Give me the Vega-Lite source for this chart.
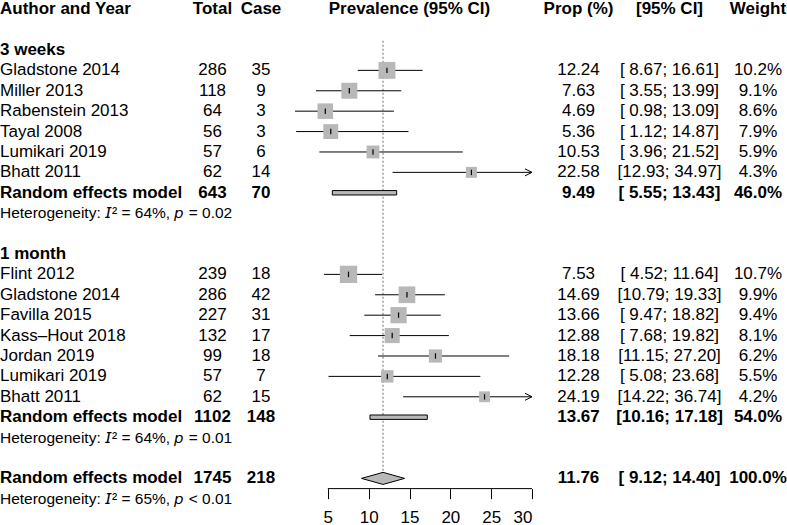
{
  "$schema": "https://vega.github.io/schema/vega-lite/v6.json",
  "padding": {"left": 0, "top": 0, "right": 0, "bottom": 2},
  "spacing": 15,
  "bounds": "flush",
  "config": {
    "view": {"stroke": null},
    "text": {"font": "Liberation Sans", "fontSize": 17, "color": "black"}
  },
  "data": {
    "values": [
      {"row": 0, "kind": "header", "bold": true, "label": "Author and Year", "total": "Total", "case": "Case", "forest": "Prevalence (95% CI)", "prop": "Prop (%)", "ci": "[95% CI]", "weight": "Weight"},
      {"row": 2, "kind": "group", "bold": true, "label": "3 weeks"},
      {"row": 3, "kind": "study", "bold": false, "label": "Gladstone 2014", "total": 286, "case": 35, "est": 12.24, "lo": 8.67, "hi": 16.61, "w": 10.2, "prop": "12.24", "ci": "[ 8.67; 16.61]", "weight": "10.2%"},
      {"row": 4, "kind": "study", "bold": false, "label": "Miller 2013", "total": 118, "case": 9, "est": 7.63, "lo": 3.55, "hi": 13.99, "w": 9.1, "prop": "7.63", "ci": "[ 3.55; 13.99]", "weight": "9.1%"},
      {"row": 5, "kind": "study", "bold": false, "label": "Rabenstein 2013", "total": 64, "case": 3, "est": 4.69, "lo": 0.98, "hi": 13.09, "w": 8.6, "prop": "4.69", "ci": "[ 0.98; 13.09]", "weight": "8.6%"},
      {"row": 6, "kind": "study", "bold": false, "label": "Tayal 2008", "total": 56, "case": 3, "est": 5.36, "lo": 1.12, "hi": 14.87, "w": 7.9, "prop": "5.36", "ci": "[ 1.12; 14.87]", "weight": "7.9%"},
      {"row": 7, "kind": "study", "bold": false, "label": "Lumikari 2019", "total": 57, "case": 6, "est": 10.53, "lo": 3.96, "hi": 21.52, "w": 5.9, "prop": "10.53", "ci": "[ 3.96; 21.52]", "weight": "5.9%"},
      {"row": 8, "kind": "study", "bold": false, "label": "Bhatt 2011", "total": 62, "case": 14, "est": 22.58, "lo": 12.93, "hi": 34.97, "w": 4.3, "prop": "22.58", "ci": "[12.93; 34.97]", "weight": "4.3%"},
      {"row": 9, "kind": "summary", "bold": true, "label": "Random effects model", "total": 643, "case": 70, "est": 9.49, "lo": 5.55, "hi": 13.43, "prop": "9.49", "ci": "[ 5.55; 13.43]", "weight": "46.0%"},
      {"row": 10, "kind": "het", "bold": false, "label": "Heterogeneity: 𝘐² = 64%, 𝘱 = 0.02"},
      {"row": 12, "kind": "group", "bold": true, "label": "1 month"},
      {"row": 13, "kind": "study", "bold": false, "label": "Flint 2012", "total": 239, "case": 18, "est": 7.53, "lo": 4.52, "hi": 11.64, "w": 10.7, "prop": "7.53", "ci": "[ 4.52; 11.64]", "weight": "10.7%"},
      {"row": 14, "kind": "study", "bold": false, "label": "Gladstone 2014", "total": 286, "case": 42, "est": 14.69, "lo": 10.79, "hi": 19.33, "w": 9.9, "prop": "14.69", "ci": "[10.79; 19.33]", "weight": "9.9%"},
      {"row": 15, "kind": "study", "bold": false, "label": "Favilla 2015", "total": 227, "case": 31, "est": 13.66, "lo": 9.47, "hi": 18.82, "w": 9.4, "prop": "13.66", "ci": "[ 9.47; 18.82]", "weight": "9.4%"},
      {"row": 16, "kind": "study", "bold": false, "label": "Kass–Hout 2018", "total": 132, "case": 17, "est": 12.88, "lo": 7.68, "hi": 19.82, "w": 8.1, "prop": "12.88", "ci": "[ 7.68; 19.82]", "weight": "8.1%"},
      {"row": 17, "kind": "study", "bold": false, "label": "Jordan 2019", "total": 99, "case": 18, "est": 18.18, "lo": 11.15, "hi": 27.20, "w": 6.2, "prop": "18.18", "ci": "[11.15; 27.20]", "weight": "6.2%"},
      {"row": 18, "kind": "study", "bold": false, "label": "Lumikari 2019", "total": 57, "case": 7, "est": 12.28, "lo": 5.08, "hi": 23.68, "w": 5.5, "prop": "12.28", "ci": "[ 5.08; 23.68]", "weight": "5.5%"},
      {"row": 19, "kind": "study", "bold": false, "label": "Bhatt 2011", "total": 62, "case": 15, "est": 24.19, "lo": 14.22, "hi": 36.74, "w": 4.2, "prop": "24.19", "ci": "[14.22; 36.74]", "weight": "4.2%"},
      {"row": 20, "kind": "summary", "bold": true, "label": "Random effects model", "total": 1102, "case": 148, "est": 13.67, "lo": 10.16, "hi": 17.18, "prop": "13.67", "ci": "[10.16; 17.18]", "weight": "54.0%"},
      {"row": 21, "kind": "het", "bold": false, "label": "Heterogeneity: 𝘐² = 64%, 𝘱 = 0.01"},
      {"row": 23, "kind": "overall", "bold": true, "label": "Random effects model", "total": 1745, "case": 218, "est": 11.76, "lo": 9.12, "hi": 14.40, "prop": "11.76", "ci": "[ 9.12; 14.40]", "weight": "100.0%"},
      {"row": 24, "kind": "het", "bold": false, "label": "Heterogeneity: 𝘐² = 65%, 𝘱 < 0.01"}
    ]
  },
  "hconcat": [
    {
      "width": 175,
      "height": 487.6,
      "encoding": {
        "y": {"field": "row", "type": "quantitative", "scale": {"domain": [-0.4, 23.5], "reverse": true, "nice": false, "zero": false}, "axis": null},
        "x": {"datum": 0, "type": "quantitative", "scale": {"domain": [0, 1]}, "axis": null},
        "text": {"field": "label"}
      },
      "layer": [
        {"transform": [{"filter": "datum.kind == 'study'"}], "mark": {"type": "text", "align": "left"}},
        {"transform": [{"filter": "datum.bold"}], "mark": {"type": "text", "align": "left", "fontWeight": "bold"}},
        {"transform": [{"filter": "datum.kind == 'het'"}], "mark": {"type": "text", "align": "left", "fontSize": 15.5}}
      ]
    },
    {
      "width": 45,
      "height": 487.6,
      "encoding": {
        "y": {"field": "row", "type": "quantitative", "scale": {"domain": [-0.4, 23.5], "reverse": true, "nice": false, "zero": false}, "axis": null},
        "text": {"field": "total"}
      },
      "layer": [
        {"transform": [{"filter": "isValid(datum.total) && !datum.bold"}], "mark": {"type": "text"}},
        {"transform": [{"filter": "isValid(datum.total) && datum.bold"}], "mark": {"type": "text", "fontWeight": "bold"}}
      ]
    },
    {
      "width": 22,
      "height": 487.6,
      "encoding": {
        "y": {"field": "row", "type": "quantitative", "scale": {"domain": [-0.4, 23.5], "reverse": true, "nice": false, "zero": false}, "axis": null},
        "text": {"field": "case"}
      },
      "layer": [
        {"transform": [{"filter": "isValid(datum.case) && !datum.bold"}], "mark": {"type": "text"}},
        {"transform": [{"filter": "isValid(datum.case) && datum.bold"}], "mark": {"type": "text", "fontWeight": "bold"}}
      ]
    },
    {
      "width": 245,
      "height": 487.6,
      "layer": [
        {
          "transform": [{"filter": "datum.kind == 'overall'"}],
          "mark": {"type": "rule", "stroke": "#6e6e6e", "strokeDash": [2, 2], "strokeWidth": 1},
          "encoding": {
            "x": {"field": "est", "type": "quantitative", "scale": {"domain": [0, 30], "clamp": true, "nice": false, "zero": false},
                  "axis": {"values": [5, 10, 15, 20, 25, 30], "domain": false, "grid": false, "ticks": true, "tickSize": 10, "tickColor": "black", "tickWidth": 1, "labelFontSize": 17, "labelFont": "Liberation Sans", "labelColor": "black", "labelPadding": 11, "title": null, "orient": "bottom"}},
            "y": {"datum": 1.55, "type": "quantitative", "scale": {"domain": [-0.4, 23.5], "reverse": true, "nice": false, "zero": false}, "axis": null},
            "y2": {"datum": 23}
          }
        },
        {
          "transform": [{"filter": "datum.kind == 'study'"}],
          "mark": {"type": "rule", "stroke": "black", "strokeWidth": 1},
          "encoding": {
            "x": {"field": "lo", "type": "quantitative", "scale": {"domain": [0, 30], "clamp": true, "nice": false, "zero": false}},
            "x2": {"field": "hi"},
            "y": {"field": "row", "type": "quantitative", "scale": {"domain": [-0.4, 23.5], "reverse": true, "nice": false, "zero": false}, "axis": null}
          }
        },
        {
          "transform": [{"filter": "datum.kind == 'study'"}],
          "mark": {"type": "point", "shape": "square", "filled": true, "fill": "#b8b8b8", "opacity": 1, "strokeWidth": 0},
          "encoding": {
            "x": {"field": "est", "type": "quantitative", "scale": {"domain": [0, 30], "clamp": true, "nice": false, "zero": false}},
            "y": {"field": "row", "type": "quantitative", "scale": {"domain": [-0.4, 23.5], "reverse": true, "nice": false, "zero": false}, "axis": null},
            "size": {"field": "w", "type": "quantitative", "scale": {"domain": [0, 10.7], "range": [0, 300], "zero": true}, "legend": null}
          }
        },
        {
          "transform": [{"filter": "datum.kind == 'study'"}],
          "mark": {"type": "point", "shape": "M0,-1L0,1", "filled": false, "stroke": "black", "strokeWidth": 1.2, "size": 30, "opacity": 1},
          "encoding": {
            "x": {"field": "est", "type": "quantitative", "scale": {"domain": [0, 30], "clamp": true, "nice": false, "zero": false}},
            "y": {"field": "row", "type": "quantitative", "scale": {"domain": [-0.4, 23.5], "reverse": true, "nice": false, "zero": false}, "axis": null}
          }
        },
        {
          "transform": [{"filter": "datum.kind == 'study' && datum.hi > 30"}],
          "mark": {"type": "point", "shape": "M-1,-0.5L0,0L-1,0.5", "filled": false, "stroke": "black", "strokeWidth": 1, "size": 196, "opacity": 1},
          "encoding": {
            "x": {"field": "hi", "type": "quantitative", "scale": {"domain": [0, 30], "clamp": true, "nice": false, "zero": false}},
            "y": {"field": "row", "type": "quantitative", "scale": {"domain": [-0.4, 23.5], "reverse": true, "nice": false, "zero": false}, "axis": null}
          }
        },
        {
          "transform": [{"filter": "datum.kind == 'summary'"}],
          "mark": {"type": "rect", "fill": "#b8b8b8", "stroke": "black", "strokeWidth": 1, "yOffset": -2.2, "y2Offset": 2.2},
          "encoding": {
            "x": {"field": "lo", "type": "quantitative", "scale": {"domain": [0, 30], "clamp": true, "nice": false, "zero": false}},
            "x2": {"field": "hi"},
            "y": {"field": "row", "type": "quantitative", "scale": {"domain": [-0.4, 23.5], "reverse": true, "nice": false, "zero": false}, "axis": null},
            "y2": {"field": "row"}
          }
        },
        {
          "transform": [{"filter": "datum.kind == 'overall'"}],
          "mark": {"type": "point", "shape": "M-1,0L0,-0.28L1,0L0,0.28Z", "filled": true, "fill": "#b8b8b8", "stroke": "black", "strokeWidth": 1, "size": 1858, "opacity": 1},
          "encoding": {
            "x": {"field": "est", "type": "quantitative", "scale": {"domain": [0, 30], "clamp": true, "nice": false, "zero": false}},
            "y": {"field": "row", "type": "quantitative", "scale": {"domain": [-0.4, 23.5], "reverse": true, "nice": false, "zero": false}, "axis": null}
          }
        },
        {
          "transform": [{"filter": "datum.kind == 'overall'"}],
          "mark": {"type": "rule", "stroke": "black", "strokeWidth": 1},
          "encoding": {
            "x": {"datum": 5, "type": "quantitative", "scale": {"domain": [0, 30], "clamp": true, "nice": false, "zero": false}},
            "x2": {"datum": 30},
            "y": {"datum": 23.5, "type": "quantitative", "scale": {"domain": [-0.4, 23.5], "reverse": true, "nice": false, "zero": false}, "axis": null}
          }
        },
        {
          "transform": [{"filter": "datum.kind == 'header'"}],
          "mark": {"type": "text", "fontWeight": "bold"},
          "encoding": {
            "y": {"field": "row", "type": "quantitative", "scale": {"domain": [-0.4, 23.5], "reverse": true, "nice": false, "zero": false}, "axis": null},
            "text": {"field": "forest"}
          }
        }
      ]
    },
    {
      "width": 63,
      "height": 487.6,
      "encoding": {
        "y": {"field": "row", "type": "quantitative", "scale": {"domain": [-0.4, 23.5], "reverse": true, "nice": false, "zero": false}, "axis": null},
        "text": {"field": "prop"}
      },
      "layer": [
        {"transform": [{"filter": "isValid(datum.prop) && !datum.bold"}], "mark": {"type": "text"}},
        {"transform": [{"filter": "isValid(datum.prop) && datum.bold"}], "mark": {"type": "text", "fontWeight": "bold"}}
      ]
    },
    {
      "width": 89,
      "height": 487.6,
      "encoding": {
        "y": {"field": "row", "type": "quantitative", "scale": {"domain": [-0.4, 23.5], "reverse": true, "nice": false, "zero": false}, "axis": null},
        "text": {"field": "ci"}
      },
      "layer": [
        {"transform": [{"filter": "isValid(datum.ci) && !datum.bold"}], "mark": {"type": "text"}},
        {"transform": [{"filter": "isValid(datum.ci) && datum.bold"}], "mark": {"type": "text", "fontWeight": "bold"}}
      ]
    },
    {
      "width": 58,
      "height": 487.6,
      "encoding": {
        "y": {"field": "row", "type": "quantitative", "scale": {"domain": [-0.4, 23.5], "reverse": true, "nice": false, "zero": false}, "axis": null},
        "text": {"field": "weight"}
      },
      "layer": [
        {"transform": [{"filter": "isValid(datum.weight) && !datum.bold"}], "mark": {"type": "text"}},
        {"transform": [{"filter": "isValid(datum.weight) && datum.bold"}], "mark": {"type": "text", "fontWeight": "bold"}}
      ]
    }
  ]
}
